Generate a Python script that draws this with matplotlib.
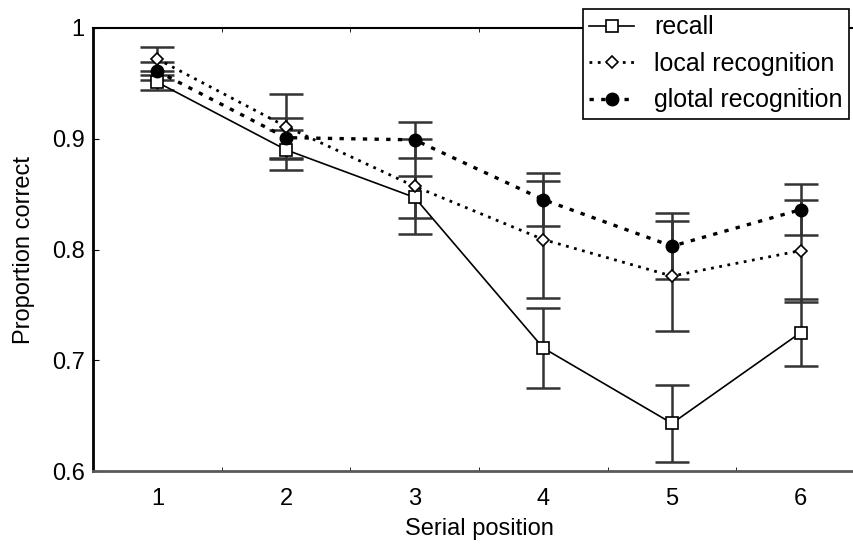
import matplotlib
matplotlib.use('Agg')
import matplotlib.pyplot as plt

plt.rcParams['font.family'] = ['Liberation Sans', 'DejaVu Sans']

positions = [1, 2, 3, 4, 5, 6]

recall = [0.951, 0.890, 0.847, 0.711, 0.643, 0.725]
recall_err = [0.007, 0.018, 0.019, 0.036, 0.035, 0.030]

local_rec = [0.972, 0.911, 0.857, 0.809, 0.776, 0.799]
local_err = [0.011, 0.029, 0.043, 0.053, 0.050, 0.046]

global_rec = [0.961, 0.901, 0.899, 0.845, 0.803, 0.836]
global_err = [0.008, 0.018, 0.016, 0.024, 0.030, 0.023]

fig = plt.figure(figsize=(8.54, 5.5), dpi=100)
# axes runs a little past the right edge of the figure
ax = fig.add_axes([93/854, 79/550, 772/854, 443/550])

err_kw = dict(fmt='none', ecolor='0.2', elinewidth=1.8, capsize=12, capthick=1.8, zorder=1)
ax.errorbar(positions, recall, yerr=recall_err, **err_kw)
ax.errorbar(positions, local_rec, yerr=local_err, **err_kw)
ax.errorbar(positions, global_rec, yerr=global_err, **err_kw)

l1, = ax.plot(positions, recall, color='black', lw=1.2, ls='-',
              marker='s', ms=9, mfc='white', mec='black', mew=1.2, zorder=3)
l2, = ax.plot(positions, local_rec, color='black', lw=2, ls=(0, (1, 2)),
              marker='D', ms=6.5, mfc='white', mec='black', mew=1.2, zorder=3)
l3, = ax.plot(positions, global_rec, color='black', lw=2.4, ls=(0, (1.3, 2.2)),
              marker='o', ms=9, mfc='black', mec='black', zorder=3)

ax.set_xlim(0.5, 6.5)
ax.set_ylim(0.6, 1.0)
ax.set_xticks(positions)
ax.set_xticks([1.5, 2.5, 3.5, 4.5, 5.5], minor=True)
ax.set_yticks([0.6, 0.7, 0.8, 0.9, 1.0])
ax.set_yticklabels(['0.6', '0.7', '0.8', '0.9', '1'])
ax.tick_params(axis='x', which='major', length=0, pad=12, labelsize=17)
ax.tick_params(axis='x', which='minor', direction='in', length=3, top=True)
ax.tick_params(axis='y', direction='in', length=4, labelsize=17, pad=6)

for side in ['left', 'bottom']:
    ax.spines[side].set_linewidth(2)
ax.spines['top'].set_linewidth(1.5)
ax.spines['bottom'].set_color('0.35')

ax.set_xlabel('Serial position', fontsize=17, labelpad=6)
ax.set_ylabel('Proportion correct', fontsize=17, labelpad=12)

leg = fig.legend([l1, l2, l3], ['recall', 'local recognition', 'glotal recognition'],
                 loc='upper right', bbox_to_anchor=(849/854, 1 - 9/550),
                 fontsize=18, frameon=True, fancybox=False, edgecolor='black',
                 framealpha=1, handlelength=1.8, borderpad=0.25, labelspacing=0.5,
                 handletextpad=0.8, borderaxespad=0)
leg.get_frame().set_linewidth(1.2)

fig.savefig('out.png', dpi=100)
